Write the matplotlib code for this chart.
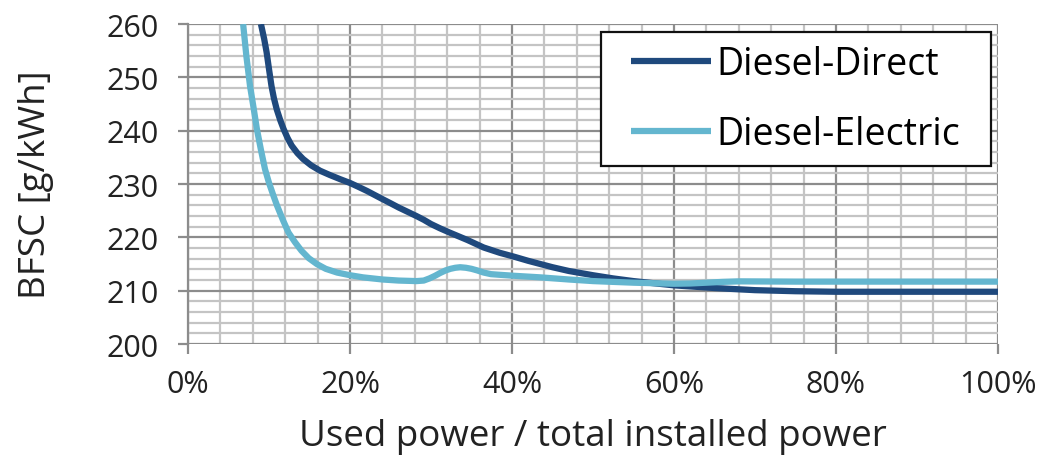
import matplotlib.pyplot as plt
from matplotlib.patches import Rectangle
from matplotlib.ticker import MultipleLocator, PercentFormatter

plt.rcParams['font.family'] = ['Open Sans', 'DejaVu Sans']

# BFSC curves read as (load %, g/kWh)
direct_x = [9.0, 9.4, 9.7, 10.0, 10.3, 10.6, 10.95, 11.4, 11.8, 12.3, 12.8, 13.5,
            14.2, 15.2, 16.3, 17.5, 18.8, 20.0, 21.0, 22.1, 23.1, 24.1, 25.0,
            26.0, 27.1, 28.2, 29.1, 30.0, 31.1, 32.3, 33.4, 34.5, 35.5, 36.5,
            37.5, 38.5, 40.2, 42.0, 43.5, 45.0, 47.0, 50.0, 52.5,
            55.0, 57.5, 60.0, 65.0, 70.0, 75.0, 80.0, 90.0, 100.0]
direct_y = [260.0, 257.2, 254.7, 251.5, 248.4, 246.1, 244.0, 241.9, 240.3, 238.6, 237.2, 235.8,
            234.7, 233.5, 232.5, 231.7, 230.9, 230.2, 229.5, 228.7, 227.9, 227.1, 226.4,
            225.6, 224.8, 224.0, 223.3, 222.5, 221.7, 220.9, 220.2, 219.5, 218.8, 218.1,
            217.6, 217.1, 216.4, 215.6, 215.0, 214.4, 213.7, 212.9, 212.3,
            211.8, 211.4, 211.0, 210.5, 210.1, 209.9, 209.8, 209.8, 209.8]

electric_x = [6.8, 7.2, 7.65, 8.1, 8.5, 9.0, 9.5, 10.0, 10.5, 11.0, 11.7, 12.4,
              13.2, 14.0, 14.9, 15.9, 17.0, 18.4, 20.0, 21.6, 24.0, 26.0, 28.2,
              29.1, 29.8, 30.5, 31.1, 31.8, 32.4, 33.0, 33.6, 34.3, 35.0, 35.7,
              36.5, 37.4, 38.3, 40.2, 43.5, 47.0, 50.0, 55.0, 60.0, 62.0, 64.0,
              66.0, 68.0, 75.0, 85.0, 100.0]
electric_y = [260.0, 254.0, 248.4, 244.2, 240.3, 236.4, 232.8, 230.2, 228.0, 225.9, 223.3, 220.9,
              219.1, 217.5, 216.1, 215.0, 214.1, 213.4, 212.9, 212.5, 212.1, 211.9, 211.8,
              211.9, 212.3, 212.8, 213.3, 213.8, 214.1, 214.3, 214.4, 214.3, 214.1, 213.8,
              213.4, 213.1, 213.0, 212.8, 212.5, 212.1, 211.8, 211.5, 211.3, 211.35, 211.5,
              211.65, 211.75, 211.7, 211.7, 211.7]

fig = plt.figure(figsize=(10.39, 4.56), dpi=100)
ax = fig.add_axes([0.181, 0.2434, 0.7795, 0.7016])

ax.plot(direct_x, direct_y, color='#1F497D', lw=4.5, solid_capstyle='butt',
        solid_joinstyle='round', label='Diesel-Direct', zorder=3)
ax.plot(electric_x, electric_y, color='#64B6CF', lw=4.5, solid_capstyle='butt',
        solid_joinstyle='round', label='Diesel-Electric', zorder=3)

ax.set_xlim(0, 100)
ax.set_ylim(200, 260)
ax.xaxis.set_major_locator(MultipleLocator(20))
ax.xaxis.set_minor_locator(MultipleLocator(4))
ax.yaxis.set_major_locator(MultipleLocator(10))
ax.yaxis.set_minor_locator(MultipleLocator(2))
ax.xaxis.set_major_formatter(PercentFormatter(decimals=0))

ax.grid(which='minor', color='#C4C4C4', lw=1.6, zorder=0)
ax.grid(which='major', color='#8C8C8C', lw=1.6, zorder=1)
ax.set_axisbelow(True)

for side in ['top', 'right', 'bottom']:
    ax.spines[side].set_visible(False)
ax.spines['left'].set_color('#8C8C8C')
ax.spines['left'].set_linewidth(1.6)

ax.tick_params(which='minor', length=0)
ax.tick_params(which='major', length=7, width=1.6, color='#8C8C8C',
               labelsize=22, labelcolor='#222222')
ax.tick_params(axis='x', which='major', pad=11)
ax.tick_params(axis='y', which='major', pad=14)

ax.set_xlabel('Used power / total installed power', fontsize=26.5, color='#222222', labelpad=14)
ax.set_ylabel('BFSC [g/kWh]', fontsize=26.5, color='#222222', labelpad=38)

# legend box: white square frame, entries centred inside
box = (0.5095, 0.557, 0.4815, 0.417)
ax.add_patch(Rectangle(box[:2], box[2], box[3], transform=ax.transAxes,
                       facecolor='white', edgecolor='#111111', lw=1.6, zorder=4))
leg = ax.legend(loc='center', bbox_to_anchor=box, fontsize=27, frameon=False,
                handlelength=2.13, handletextpad=0.13, labelspacing=0.85,
                borderpad=0, borderaxespad=0)
leg.set_zorder(5)

fig.savefig('out.png', dpi=100)
